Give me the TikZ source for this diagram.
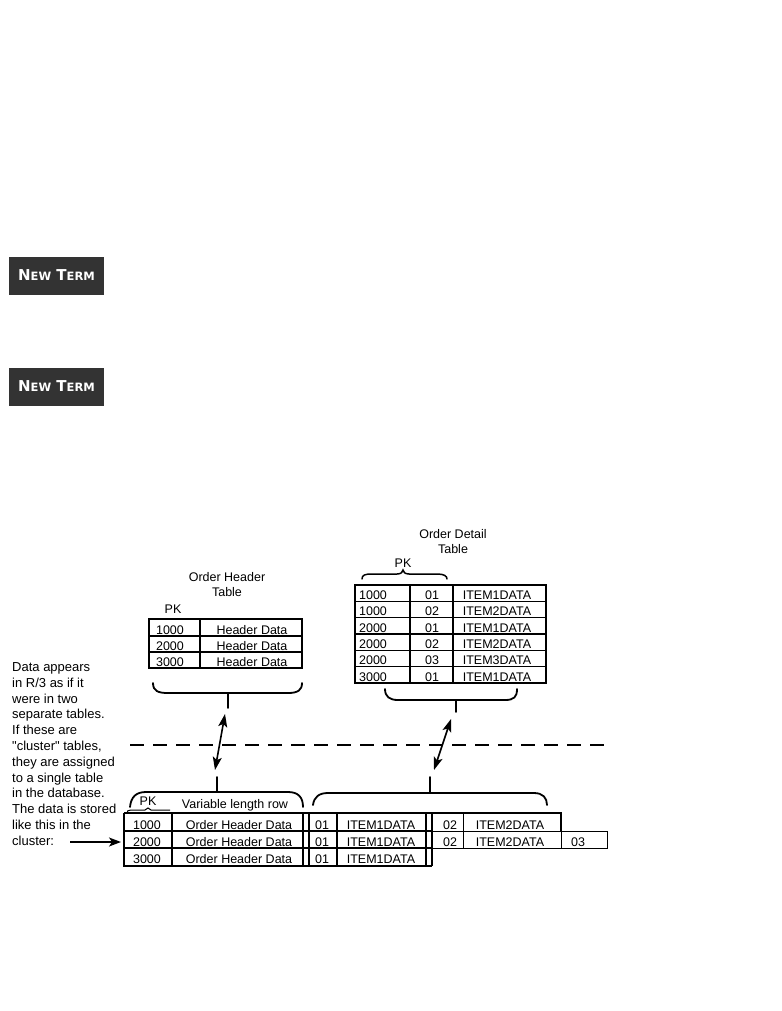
\documentclass[tikz,border=0pt]{standalone}
\usepackage{fontspec}
\setmainfont{Liberation Sans}[Ligatures=TeXOff]
\newfontfamily\badgefont{DejaVu Sans}
\usetikzlibrary{arrows.meta}
\definecolor{badgegray}{HTML}{333333}

\begin{document}
\begin{tikzpicture}[x=1pt,y=-1pt,
  lbl/.style={inner sep=0pt, font=\fontsize{12.5}{15}\selectfont},
  cell/.style={lbl, anchor=base},
  note/.style={inner sep=0pt, anchor=base west, font=\fontsize{13}{15}\selectfont},
  frame/.style={line width=1.8pt},
  rule/.style={line width=1.3pt},
  thinrule/.style={line width=0.9pt},
  bracepath/.style={line width=1.8pt, line cap=round},
  dbl/.style={line width=1.6pt, {Stealth[length=13pt,width=9pt,inset=3pt]}-{Stealth[length=13pt,width=9pt,inset=3pt]}},
  pointer/.style={line width=1.5pt, -{Stealth[length=12pt,width=9pt,inset=3pt]}},
  divider/.style={line width=1.2pt, dash pattern=on 14pt off 9pt},
  badge/.style={fill=badgegray, minimum width=95pt, minimum height=38pt, inner sep=0pt,
    text=white, font=\badgefont\bfseries\fontsize{15}{15}\selectfont}
]
\useasboundingbox (0,0) rectangle (781,1011);

% --- "New Term" badges
\newcommand\smallcap[1]{{\fontsize{11.5}{11.5}\selectfont #1}}
\node[badge] (nt1) at (56.5,275.5) {N\smallcap{EW} T\smallcap{ERM}};
\node[badge] (nt2) at (56.5,386.5) {N\smallcap{EW} T\smallcap{ERM}};

% --- Order Header table
\node[lbl, align=center] (ohtitle) at (227,585) {Order Header\\Table};
\node[lbl] (ohpk) at (173,609) {PK};
\draw[frame] (149,619) rectangle (302,668);
\draw[rule] (200,619) -- (200,668);
\draw[rule] (149,636) -- (302,636);
\draw[rule] (149,652) -- (302,652);
\foreach \k/\yb in {1000/634, 2000/650, 3000/666} {
  \node[cell] (oh-\k) at (170,\yb) {\k};
  \node[cell] (ohd-\k) at (252,\yb) {Header Data};
}
% brace under the header table
\draw[bracepath] (153,683) .. controls (153,691) and (158,693) .. (168,693) -- (288,693)
  .. controls (298,693) and (302,690) .. (302,683);
\draw[bracepath] (228,693) -- (228,708);

% --- Order Detail table
\node[lbl, align=center] (odtitle) at (453,542) {Order Detail\\Table};
\node[lbl] (odpk) at (403,563) {PK};
\draw[line width=1.5pt, line cap=round] (362,579) .. controls (362,575) and (365,574) .. (372,574) -- (397,574)
  .. controls (401,574) and (403,572) .. (403,570) .. controls (403,572) and (405,574) .. (409,574)
  -- (437,574) .. controls (444,574) and (447,576) .. (447,579);
\draw[frame] (355,585) rectangle (546,683);
\draw[rule] (410,585) -- (410,683);
\draw[rule] (453,585) -- (453,683);
\foreach \yl in {601.3, 617.7, 634, 650.3, 666.7}
  \draw[rule] (355,\yl) -- (546,\yl);
\foreach \k/\n/\d/\yb in {a/1000/01/599, b/1000/02/615.5, c/2000/01/632,
                          d/2000/02/648, e/2000/03/664.5, f/3000/01/681} {
  \node[cell] (od-\k-pk) at (373,\yb) {\n};
  \node[cell] (od-\k-no) at (432,\yb) {\d};
}
\node[cell] (od-a-data) at (497,599) {ITEM1DATA};
\node[cell] (od-b-data) at (497,615.5) {ITEM2DATA};
\node[cell] (od-c-data) at (497,632) {ITEM1DATA};
\node[cell] (od-d-data) at (497,648) {ITEM2DATA};
\node[cell] (od-e-data) at (497,664.5) {ITEM3DATA};
\node[cell] (od-f-data) at (497,681) {ITEM1DATA};
% brace under the detail table
\draw[bracepath] (385,689) .. controls (385,697) and (390,700) .. (398,700) -- (505,700)
  .. controls (514,700) and (517,697) .. (517,689);
\draw[bracepath] (456,700) -- (456,712);

% --- separation between logical view and storage
\coordinate (dl-a) at (130,745);
\coordinate (dl-b) at (610,745);
\draw[divider] (dl-a) -- (dl-b);

% --- double arrows between the views
\coordinate (ha-top) at (225,714);
\coordinate (ha-bot) at (215,770);
\coordinate (da-top) at (451,719);
\coordinate (da-bot) at (434,770);
\draw[dbl] (ha-top) -- (ha-bot);
\draw[dbl] (da-top) -- (da-bot);

% --- explanatory note
\foreach \t [count=\i from 0] in {Data appears, in R/3 as if it, were in two,
    separate tables., If these are, "cluster" tables{,}, they are assigned,
    to a single table, in the database., The data is stored, like this in the, cluster:}
  \node[note] (note-\i) at (12,671.5+15.8*\i) {\t};
\coordinate (ptr-from) at (70,842);
\coordinate (ptr-to) at (121,842);
\draw[pointer] (ptr-from) -- (ptr-to);

% --- cluster table: braces above it
\draw[bracepath] (130,807) .. controls (131,797) and (136,792) .. (146,792) -- (288,792)
  .. controls (298,792) and (303,797) .. (303,807);
\draw[bracepath] (217,777) -- (217,792);
\draw[bracepath] (313,805) .. controls (314,797) and (319,793) .. (328,793) -- (534,793)
  .. controls (543,793) and (547,798) .. (547,805);
\draw[bracepath] (430,777) -- (430,793);
\node[lbl] (clpk) at (148,801) {PK};
\node[lbl] (clvar) at (235,805) {Variable length row};
\draw[line width=1pt] (127,813) .. controls (127,811) and (128,810) .. (131,810) -- (145,810)
  -- (148,808) -- (151,810) -- (170,810);

% --- cluster table: cells
\draw[frame] (124,813) -- (561,813) -- (561,831);
\draw[frame] (124,813) -- (124,866) -- (432,866);
\foreach \xv in {303, 309, 426, 432}
  \draw[frame] (\xv,813) -- (\xv,866);
\draw[rule] (172,813) -- (172,866);
\draw[rule] (337,813) -- (337,866);
\draw[rule] (124,831) -- (432,831);
\draw[rule] (124,848) -- (432,848);
\draw[thinrule] (432,831) -- (607,831) -- (607,848) -- (432,848);
\draw[thinrule] (561,831) -- (561,848);
\draw[thinrule] (463,813) -- (463,848);

\foreach \k/\yb in {1000/829, 2000/846, 3000/863} {
  \node[cell] (cl-\k) at (147,\yb) {\k};
  \node[cell] (clh-\k) at (239,\yb) {Order Header Data};
  \node[cell] (cln-\k) at (322,\yb) {01};
  \node[cell] (cli-\k) at (381,\yb) {ITEM1DATA};
}
\node[cell] (cl2-1000) at (450,829) {02};
\node[cell] (cl2d-1000) at (510,829) {ITEM2DATA};
\node[cell] (cl2-2000) at (450,846) {02};
\node[cell] (cl2d-2000) at (510,846) {ITEM2DATA};
\node[cell] (cl3-2000) at (578,846) {03};
\end{tikzpicture}
\end{document}
